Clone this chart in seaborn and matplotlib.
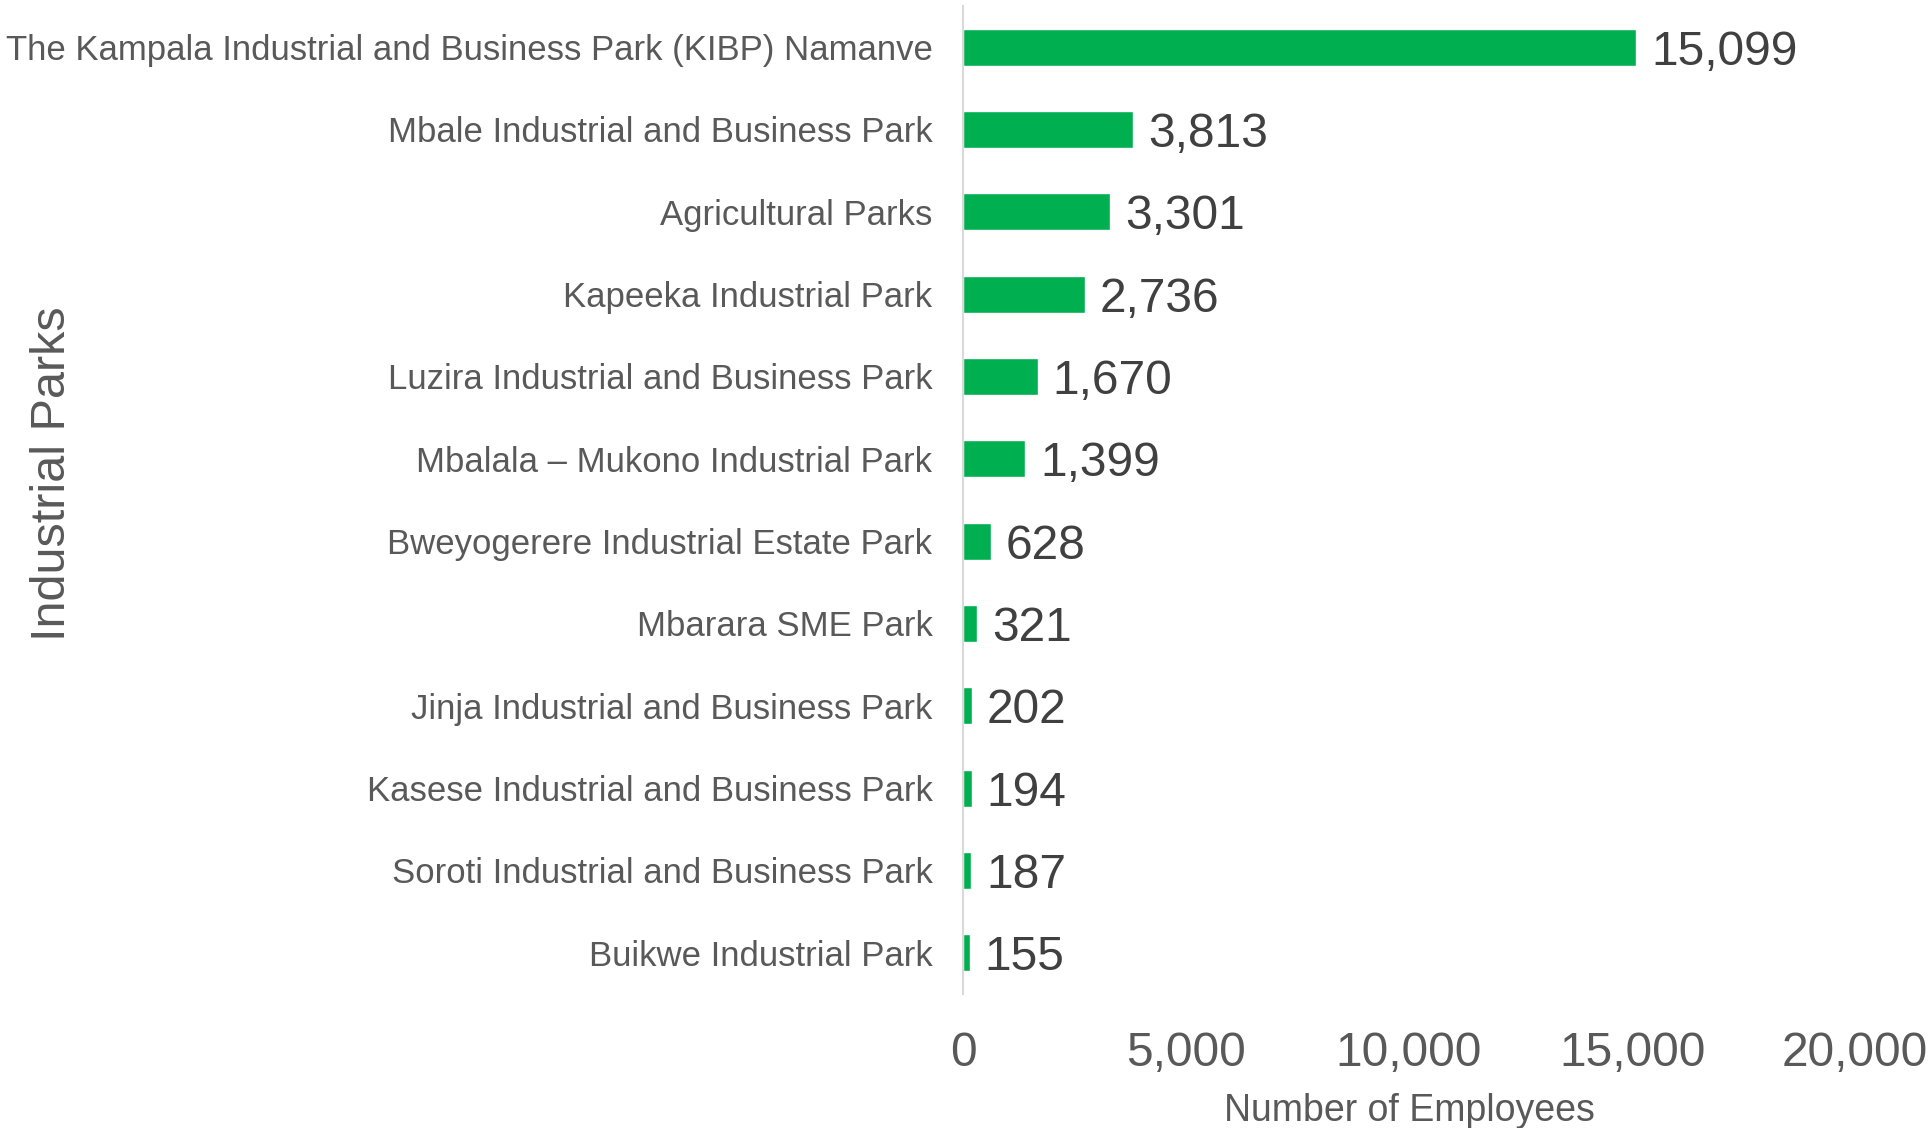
import matplotlib
matplotlib.use("Agg")
import matplotlib.pyplot as plt
import seaborn as sns
import pandas as pd

# employees per industrial park
parks = [
    "The Kampala Industrial and Business Park (KIBP) Namanve",
    "Mbale Industrial and Business Park",
    "Agricultural Parks",
    "Kapeeka Industrial Park",
    "Luzira Industrial and Business Park",
    "Mbalala \u2013 Mukono Industrial Park",
    "Bweyogerere Industrial Estate Park",
    "Mbarara SME Park",
    "Jinja Industrial and Business Park",
    "Kasese Industrial and Business Park",
    "Soroti Industrial and Business Park",
    "Buikwe Industrial Park",
]
employees = [15099, 3813, 3301, 2736, 1670, 1399, 628, 321, 202, 194, 187, 155]
xticks = [0, 5000, 10000, 15000, 20000]

df = pd.DataFrame({"park": parks, "employees": employees})

sns.set_style("white")
plt.rcParams["font.family"] = ["Liberation Sans", "DejaVu Sans"]

fig = plt.figure(figsize=(19.33, 11.28), dpi=100)
ax = fig.add_axes([0.4982, 0.1188, 0.4615, 0.8759])
sns.barplot(data=df, x="employees", y="park", orient="h", color="#00B050",
            width=0.45, ax=ax, saturation=1)

ax.set_xlim(0, 20000)
ax.set_ylim(11.5, -0.5)
ax.set_xticks(xticks)
ax.set_xticklabels([f"{v:,}" for v in xticks], fontsize=34.5, color="#595959")
ax.tick_params(axis="x", length=0, pad=27)
ax.tick_params(axis="y", length=0, pad=22, labelsize=25, labelcolor="#595959")

for i, v in enumerate(employees):
    ax.text(v + 330, i, f"{v:,}", va="center_baseline", ha="left", fontsize=34.5,
            color="#404040")

for s in ["top", "right", "bottom"]:
    ax.spines[s].set_visible(False)
ax.spines["left"].set_color("#D9D9D9")
ax.spines["left"].set_linewidth(1.5)

ax.set_xlabel("Number of Employees", fontsize=27, color="#595959", labelpad=12)
ax.set_ylabel("Industrial Parks", fontsize=35, color="#595959")
ax.yaxis.set_label_coords(-0.995, 0.527)

fig.savefig("out.png", dpi=100, facecolor="white")
